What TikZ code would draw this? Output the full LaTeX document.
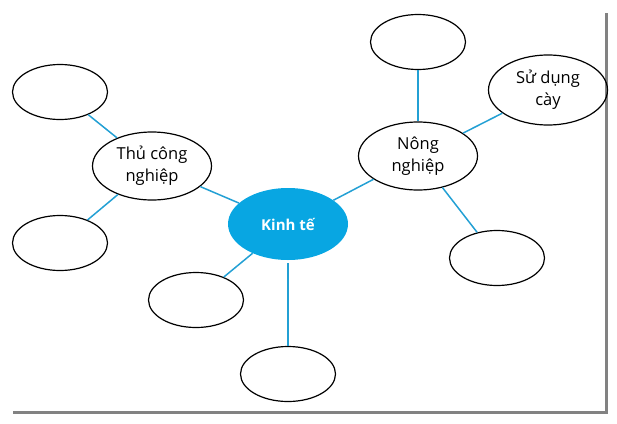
\documentclass[tikz,border=0pt]{standalone}
\usepackage{fontspec}
\setmainfont{Open Sans}
\usetikzlibrary{shapes.geometric}

\definecolor{kinhblue}{RGB}{8,166,226}
\definecolor{linkblue}{RGB}{35,160,212}
\definecolor{shadowgray}{RGB}{130,130,130}

\tikzset{
  bubble/.style={draw, ellipse, line width=1.2pt, inner sep=0pt, align=center,
    minimum width=119pt, minimum height=68pt, font=\fontsize{16.5}{22}\selectfont},
  blank/.style={draw, ellipse, line width=1.2pt, minimum width=95pt, minimum height=55pt},
  hub/.style={ellipse, fill=kinhblue, text=white, minimum width=120pt, minimum height=72pt,
    font=\fontsize{15}{17}\selectfont\bfseries},
  link/.style={draw=linkblue, line width=1.5pt}
}

\begin{document}
\begin{tikzpicture}[x=1pt,y=-1pt]
\useasboundingbox (0,0) rectangle (617,423);

% page shadow
\fill[shadowgray] (605,13) rectangle (608,414);
\fill[shadowgray] (13,411) rectangle (608,414);

% main bubbles
\node[hub] (kinhte) at (288,224) {Kinh tế};
\node[bubble] (thucong) at (152,166) {Thủ công\\nghiệp};
\node[bubble] (nongnghiep) at (418,156) {Nông\\nghiệp};
\node[bubble, minimum height=70pt] (sudung) at (548,90) {Sử dụng\\cày};

% empty bubbles
\node[blank] (topright) at (418,42) {};
\node[blank] (topleft) at (60,92) {};
\node[blank] (midleft) at (60,243) {};
\node[blank] (lowleft) at (196,300) {};
\node[blank] (bottom) at (288,374) {};
\node[blank] (lowright) at (497,258) {};

% links
\draw[link] (kinhte) -- (thucong);
\draw[link] (kinhte) -- (nongnghiep);
\draw[link] (kinhte) -- (lowleft);
\draw[link, shorten <=3pt] (kinhte) -- (bottom);
\draw[link] (thucong) -- (topleft);
\draw[link] (thucong) -- (midleft);
\draw[link] (nongnghiep) -- (topright);
\draw[link] (nongnghiep) -- (sudung);
\draw[link] (nongnghiep) -- (lowright);

\end{tikzpicture}
\end{document}
